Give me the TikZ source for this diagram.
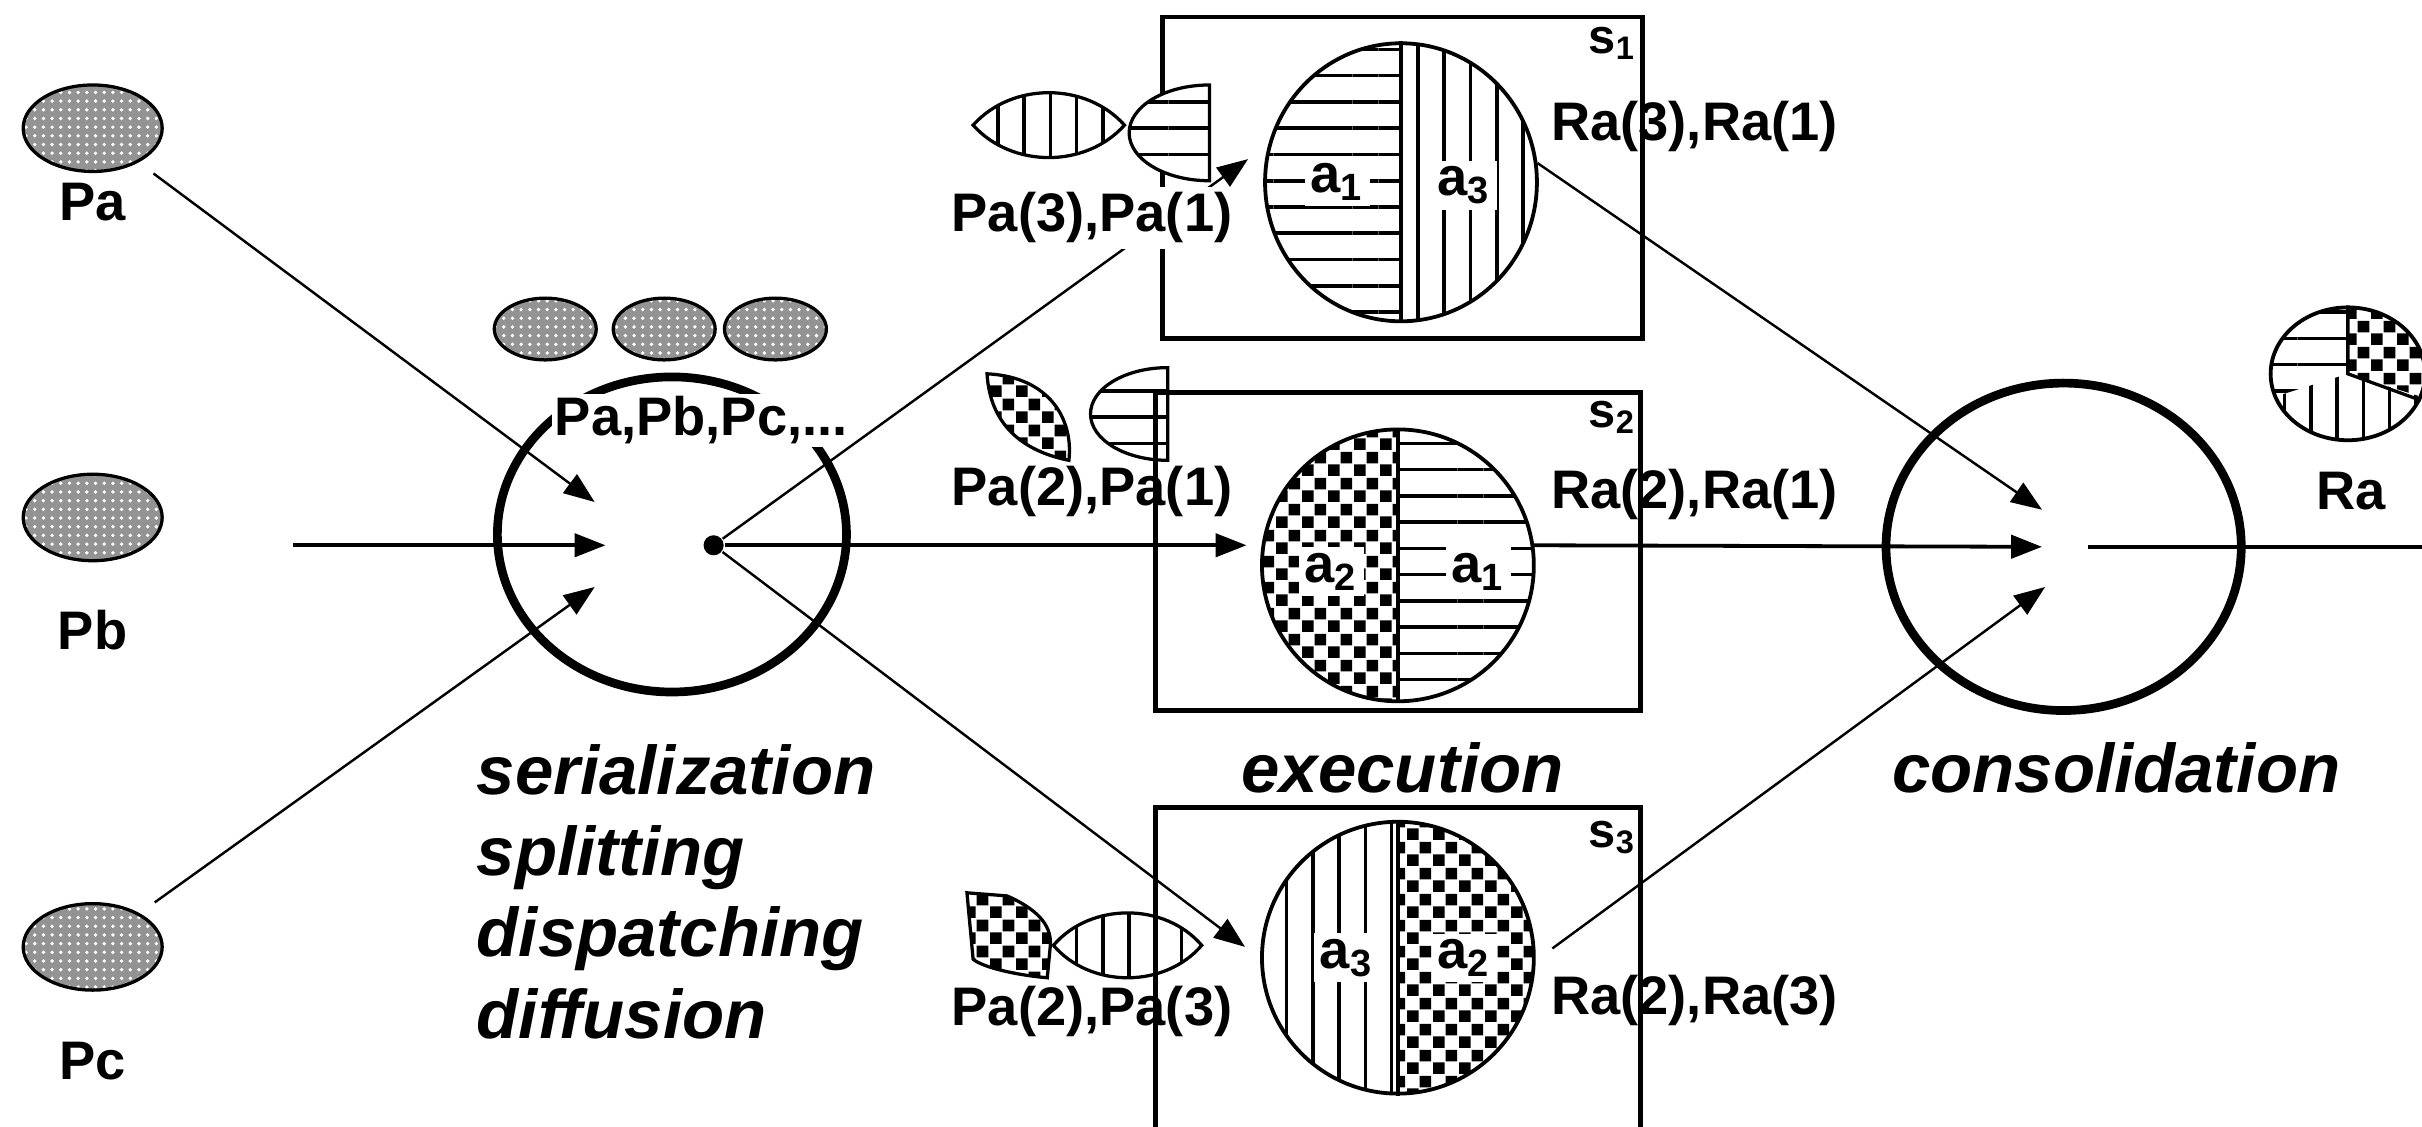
\documentclass[tikz,border=0pt]{standalone}
\usepackage{fontspec}
\setmainfont{Liberation Sans}
\usetikzlibrary{arrows.meta,patterns,patterns.meta,shapes.geometric}

\pgfdeclarepatternformonly{finechecks}{\pgfpointorigin}{\pgfqpoint{4.8pt}{4.8pt}}{\pgfqpoint{4.8pt}{4.8pt}}{%
  \pgfpathrectangle{\pgfpointorigin}{\pgfqpoint{2.2pt}{2.2pt}}%
  \pgfpathrectangle{\pgfqpoint{2.4pt}{2.4pt}}{\pgfqpoint{2.2pt}{2.2pt}}%
  \pgfusepath{fill}}

\begin{document}
\begin{tikzpicture}[x=0.1mm,y=0.1mm,
  >={Triangle[length=2mm,width=1.5mm]},
  lab/.style={font=\bfseries\fontsize{10}{12}\selectfont, inner sep=1pt},
  big/.style={font=\bfseries\itshape\fontsize{12.7}{15}\selectfont, inner sep=0pt},
  ball/.style={draw, ellipse, line width=0.6pt, inner sep=0pt,
    preaction={fill=gray!85}, pattern={Dots[distance=1.6pt,radius=0.35pt]}, pattern color=white},
  hstripes/.style={pattern={Lines[angle=0,distance=1.7mm,line width=0.65pt]}},
  vstripes/.style={pattern={Lines[angle=90,distance=1.7mm,line width=0.65pt]}},
  checks/.style={pattern=finechecks},
  piece/.style={draw, line width=0.6pt, preaction={fill=white}},
  ring/.style={draw, ellipse, line width=1.6pt, inner sep=0pt},
  disc/.style={draw, ellipse, line width=0.7pt, inner sep=0pt},
  box/.style={draw, rectangle, line width=0.9pt, inner sep=0pt},
  flow/.style={->, line width=0.45pt},
  main/.style={->, line width=0.7pt}
]
\useasboundingbox (0,0) rectangle (1568,-729);
\clip (0,0) rectangle (1568,-729);

% INPUT PACKETS
\node[ball, minimum width=9mm, minimum height=5.6mm] (pa) at (60,-83) {};
\node[lab] (pal) at (60,-131) {Pa};
\node[ball, minimum width=9mm, minimum height=5.6mm] (pb) at (60,-335) {};
\node[lab] (pbl) at (60,-408) {Pb};
\node[ball, minimum width=9mm, minimum height=5.6mm] (pc) at (60,-613) {};
\node[lab] (pcl) at (60,-687) {Pc};

% SERIALIZATION
\node[ball, minimum width=6.6mm, minimum height=4mm] (qa) at (353,-213) {};
\node[ball, minimum width=6.6mm, minimum height=4mm] (qb) at (430,-213) {};
\node[ball, minimum width=6.6mm, minimum height=4mm] (qc) at (502,-213) {};
\node[ring, minimum width=22.6mm, minimum height=20.4mm] (ser) at (435,-346) {};
\node[lab, fill=white, inner sep=0.5pt] (queue) at (454,-272) {Pa,Pb,Pc,...};
\coordinate (ina) at (385,-325);
\coordinate (inb) at (392,-353);
\coordinate (inc) at (385,-380);
\coordinate (pbin) at (190,-353);
\node[circle, fill, inner sep=0pt, minimum size=1.3mm] (hub) at (462,-353) {};
\node[big, anchor=north west, align=left] (steps) at (308,-481)
  {serialization\\splitting\\dispatching\\diffusion};

% ARROWS IN
\draw[flow, shorten <=1.2mm] (pa) -- (ina);
\draw[main] (pbin) -- (inb);
\draw[flow, shorten <=1.2mm] (pc) -- (inc);

% DISPATCH
\coordinate (ta) at (808,-103);
\coordinate (tb) at (807,-353);
\coordinate (tc) at (806,-613);
\draw[flow] (hub) -- (ta);
\draw[main] (hub) -- (tb);
\draw[flow] (hub) -- (tc);

% SERVER 1
\node[box, minimum width=31.1mm, minimum height=20.8mm] (s1) at (908,-115) {};
\node[lab, font=\bfseries\fontsize{9}{10}\selectfont] (s1l) at (1044,-28) {s\textsubscript{1}};
\fill[hstripes] (907,-28) arc[start angle=90,end angle=270,x radius=88,y radius=90] -- cycle;
\fill[vstripes] (907,-208) arc[start angle=-90,end angle=90,x radius=88,y radius=90] -- cycle;
\node[disc, minimum width=17.6mm, minimum height=18mm] (d1) at (907,-118) {};
\draw[line width=0.6pt] (d1.north) -- (d1.south);
\node[lab, fill=white] (d1a) at (866,-118) {a\textsubscript{1}};
\node[lab, fill=white] (d1b) at (948,-120) {a\textsubscript{3}};
\draw[piece, vstripes] (630,-81) .. controls (655,-53) and (703,-53) .. (728,-81)
  .. controls (703,-109) and (655,-109) .. (630,-81) -- cycle;
\draw[piece, hstripes] (783,-55) -- (783,-117)
  arc[start angle=-90,end angle=-270,x radius=52,y radius=31] -- cycle;
\node[lab, fill=white] (pa1) at (707,-141) {Pa(3),Pa(1)};
\node[lab] (ra1) at (1097,-82) {Ra(3),Ra(1)};

% SERVER 2
\draw[piece, checks] (639,-242) .. controls (680,-244) and (695,-272) .. (692,-298)
  .. controls (662,-292) and (641,-275) .. (639,-242) -- cycle;
\draw[piece, hstripes] (756,-238) -- (756,-298)
  arc[start angle=-90,end angle=-270,x radius=50,y radius=30] -- cycle;
\node[box, minimum width=31.4mm, minimum height=20.6mm] (s2) at (905,-357) {};
\node[lab, font=\bfseries\fontsize{9}{10}\selectfont] (s2l) at (1044,-270) {s\textsubscript{2}};
\fill[checks] (905,-278) arc[start angle=90,end angle=270,x radius=88,y radius=88] -- cycle;
\fill[hstripes] (905,-454) arc[start angle=-90,end angle=90,x radius=88,y radius=88] -- cycle;
\node[disc, minimum width=17.6mm, minimum height=17.6mm] (d2) at (905,-366) {};
\draw[line width=0.6pt] (d2.north) -- (d2.south);
\node[lab, fill=white] (d2a) at (862,-370) {a\textsubscript{2}};
\node[lab, fill=white] (d2b) at (957,-370) {a\textsubscript{1}};
\node[lab] (pa2) at (707,-318) {Pa(2),Pa(1)};
\node[lab] (ra2) at (1097,-320) {Ra(2),Ra(1)};
\coordinate (d2out) at (993,-353);

% SERVER 3
\draw[piece, checks] (626,-578) -- (652,-580) .. controls (670,-588) and (681,-598) .. (680,-612)
  -- (678,-633) .. controls (656,-631) and (636,-626) .. (630,-621) -- cycle;
\draw[piece, vstripes] (682,-612) .. controls (706,-584) and (754,-584) .. (778,-612)
  .. controls (754,-640) and (706,-640) .. (682,-612) -- cycle;
\node[box, minimum width=31.4mm, minimum height=23.7mm] (s3) at (905,-641.5) {};
\node[lab, font=\bfseries\fontsize{9}{10}\selectfont] (s3l) at (1044,-542) {s\textsubscript{3}};
\fill[vstripes] (905,-532) arc[start angle=90,end angle=270,x radius=88,y radius=88] -- cycle;
\fill[checks] (905,-708) arc[start angle=-90,end angle=90,x radius=88,y radius=88] -- cycle;
\node[disc, minimum width=17.6mm, minimum height=17.6mm] (d3) at (905,-620) {};
\draw[line width=0.6pt] (d3.north) -- (d3.south);
\node[lab, fill=white] (d3a) at (872,-620) {a\textsubscript{3}};
\node[lab, fill=white] (d3b) at (948,-620) {a\textsubscript{2}};
\node[lab] (pa3) at (707,-655) {Pa(2),Pa(3)};
\node[lab] (ra3) at (1097,-648) {Ra(2),Ra(3)};
\coordinate (d3out) at (1005,-614);

\node[big, anchor=base] (exe) at (908,-513) {execution};

% CONSOLIDATION
\node[ring, minimum width=23mm, minimum height=21.2mm] (cons) at (1336,-354) {};
\coordinate (oa) at (1322,-330);
\coordinate (ob) at (1322,-354);
\coordinate (oc) at (1324,-380);
\draw[flow] (d1.8) -- (oa);
\draw[main] (d2out) -- (ob);
\draw[flow] (d3out) -- (oc);
\coordinate (outs) at (1352,-354);
\coordinate (oute) at (1588,-354);
\draw[main] (outs) -- (oute);
\node[big, anchor=base] (con) at (1370,-513) {consolidation};

% RESULT
\coordinate (rc) at (1520,-242);
\fill[hstripes] (rc) -- ++(90:50 and 43) arc[start angle=90,end angle=200,x radius=50,y radius=43] -- cycle;
\fill[vstripes] (rc) -- ++(200:50 and 43) arc[start angle=200,end angle=340,x radius=50,y radius=43] -- cycle;
\fill[checks] (rc) -- ++(340:50 and 43) arc[start angle=340,end angle=450,x radius=50,y radius=43] -- cycle;
\node[disc, minimum width=10mm, minimum height=8.6mm] (res) at (rc) {};
\draw[line width=0.6pt] (res.north) -- (rc) -- (res.340);
\node[lab] (ral) at (1522,-318) {Ra};

\end{tikzpicture}
\end{document}
